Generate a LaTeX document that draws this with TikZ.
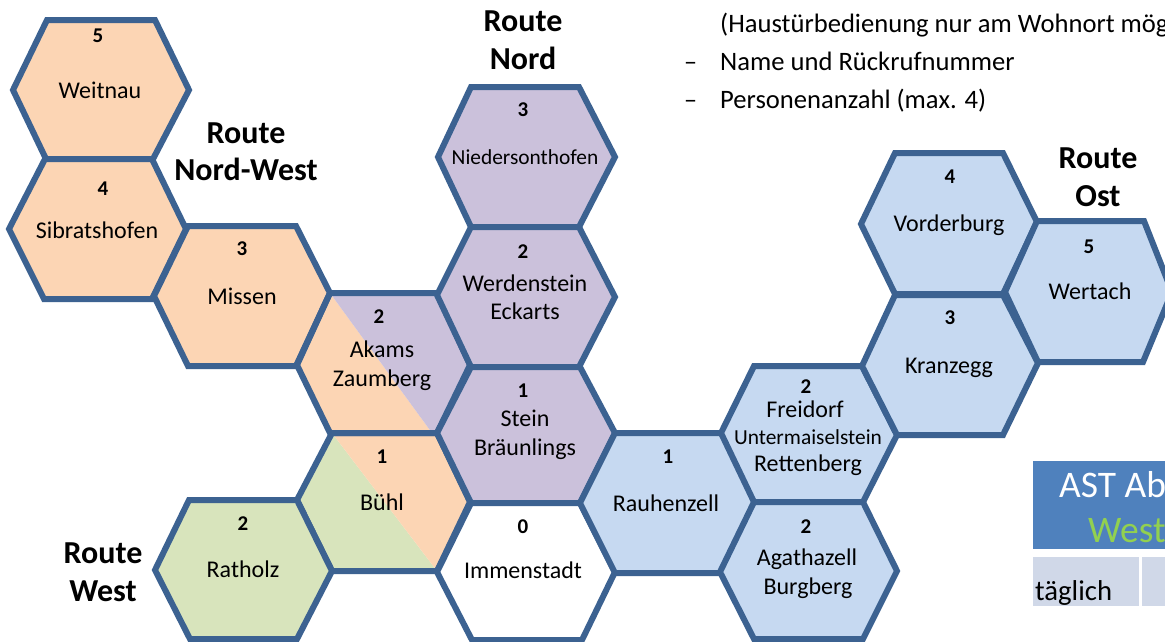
\documentclass[tikz,border=0pt]{standalone}
\usepackage{fontspec}
\setmainfont{Carlito}
\definecolor{hexline}{HTML}{3C6291}
\definecolor{hexorange}{HTML}{FCD5B4}
\definecolor{hexpurple}{HTML}{CBC1DB}
\definecolor{hexgreen}{HTML}{D8E4BC}
\definecolor{hexblue}{HTML}{C6D9F1}
\definecolor{headblue}{HTML}{4F81BD}
\definecolor{cellblue}{HTML}{D0D8E8}
\definecolor{westgreen}{HTML}{92D050}
\tikzset{
  hexa/.style={draw=hexline,line width=6pt,line join=miter},
  lab/.style={anchor=base,inner sep=0pt,font=\fontsize{24}{28}\selectfont},
  smalllab/.style={anchor=base,inner sep=0pt,font=\fontsize{21.4}{24}\selectfont},
  num/.style={anchor=base,inner sep=0pt,font=\fontsize{21}{22}\selectfont\bfseries},
  routelab/.style={anchor=base,inner sep=0pt,font=\fontsize{32}{36}\selectfont\bfseries},
  bodylab/.style={anchor=base west,inner sep=0pt,font=\fontsize{26.6}{30}\selectfont},
}
\begin{document}
\begin{tikzpicture}[x=1pt,y=-1pt]
\clip (0,0) rectangle (1165,641);
\fill[white] (0,0) rectangle (1165,641);
% table
\fill[headblue] (1033,461) rectangle (1165,549);
\fill[cellblue] (1033,557) rectangle (1139,606);
\fill[cellblue] (1142,557) rectangle (1165,606);
% two-colour fills
\fill[hexorange] (330,293) -- (297,365) -- (330,433) -- (432,433) -- cycle;
\fill[hexpurple] (330,293) -- (437,293) -- (470,365) -- (437,433) -- (432,433) -- cycle;
\fill[hexgreen] (332,433) -- (297,500) -- (332,571) -- (437,571) -- cycle;
\fill[hexorange] (332,433) -- (437,433) -- (470,502) -- (437,571) -- cycle;
% hexagons
\draw[hexa,fill=hexorange] (47,20) -- (155,20) -- (189,90) -- (153,159) -- (46,159) -- (13,90) -- cycle;
\draw[hexa,fill=hexorange] (45,159) -- (152,159) -- (186,229) -- (152,299) -- (44,299) -- (9,229) -- cycle;
\draw[hexa,fill=hexorange] (188,226) -- (296,226) -- (330,293) -- (296,366) -- (188,366) -- (154,296) -- cycle;
\draw[hexa] (330,293) -- (437,293) -- (470,365) -- (437,433) -- (330,433) -- (297,365) -- cycle;
\draw[hexa] (332,433) -- (437,433) -- (470,502) -- (437,571) -- (332,571) -- (297,500) -- cycle;
\draw[hexa,fill=hexgreen] (189,500) -- (297,500) -- (332,571) -- (297,639) -- (190,639) -- (155,570) -- cycle;
\draw[hexa,fill=hexpurple] (471,87) -- (579,87) -- (615,157) -- (579,227) -- (471,227) -- (438,157) -- cycle;
\draw[hexa,fill=hexpurple] (471,227) -- (579,227) -- (615,297) -- (579,367) -- (471,367) -- (437,295) -- cycle;
\draw[hexa,fill=hexpurple] (471,367) -- (580,367) -- (615,433) -- (580,503) -- (471,503) -- (437,433) -- cycle;
\draw[hexa,fill=white] (471,503) -- (580,503) -- (615,572) -- (582,640) -- (472,640) -- (437,572) -- cycle;
\draw[hexa,fill=hexblue] (615,433) -- (722,433) -- (757,503) -- (722,573) -- (615,573) -- (580,503) -- cycle;
\draw[hexa,fill=hexblue] (754,366) -- (862,366) -- (897,435) -- (863,502) -- (754,502) -- (721,433) -- cycle;
\draw[hexa,fill=hexblue] (754,502) -- (863,502) -- (897,571) -- (863,639) -- (754,639) -- (720,572) -- cycle;
\draw[hexa,fill=hexblue] (895,295) -- (1003,295) -- (1038,363) -- (1003,435) -- (897,435) -- (862,366) -- cycle;
\draw[hexa,fill=hexblue] (895,153) -- (1003,153) -- (1037,222) -- (1003,294) -- (895,294) -- (861,224) -- cycle;
\draw[hexa,fill=hexblue] (1037,221) -- (1144,221) -- (1172,292) -- (1143,362) -- (1038,362) -- (1005,292) -- cycle;
% hexagon labels
\node[num] (n5) at (98,42) {5};
\node[lab] (weitnau) at (100,98) {Weitnau};
\node[num] (n4) at (103,195) {4};
\node[lab] (sibrats) at (97,238) {Sibratshofen};
\node[num] (n3) at (242,255) {3};
\node[lab] (missen) at (242,304) {Missen};
\node[num] (n2a) at (379,323) {2};
\node[lab] (akams) at (382,357) {Akams};
\node[lab] (zaumberg) at (382,386) {Zaumberg};
\node[num] (n1b) at (382,463) {1};
\node[lab] (buehl) at (382,510) {Bühl};
\node[num] (n2r) at (243,530) {2};
\node[lab] (ratholz) at (243,577) {Ratholz};
\node[num] (n3n) at (523,116) {3};
\node[smalllab] (nieder) at (525,164) {Niedersonthofen};
\node[num] (n2w) at (523,258) {2};
\node[lab] (werden) at (525,291) {Werdenstein};
\node[lab] (eckarts) at (525,319) {Eckarts};
\node[num] (n1s) at (523,397) {1};
\node[lab] (stein) at (525,426) {Stein};
\node[lab] (braeun) at (525,455) {Bräunlings};
\node[num] (n0) at (523,533) {0};
\node[lab] (immen) at (523,578) {Immenstadt};
\node[num] (n1r) at (668,463) {1};
\node[lab] (rauhen) at (666,511) {Rauhenzell};
\node[num] (n2f) at (806,393) {2};
\node[lab] (freidorf) at (805,417) {Freidorf};
\node[smalllab] (unterm) at (808,444) {Untermaiselstein};
\node[lab] (retten) at (808,471) {Rettenberg};
\node[num] (n2g) at (806,533) {2};
\node[lab] (agatha) at (807,565) {Agathazell};
\node[lab] (burgberg) at (808,594) {Burgberg};
\node[num] (n3k) at (950,324) {3};
\node[lab] (kranz) at (949,373) {Kranzegg};
\node[num] (n4v) at (950,183) {4};
\node[lab] (vorder) at (949,231) {Vorderburg};
\node[num] (n5w) at (1089,253) {5};
\node[lab] (wertach) at (1090,299) {Wertach};
% route titles
\node[routelab] (rnw1) at (246,143) {Route};
\node[routelab] (rnw2) at (246,180) {Nord-West};
\node[routelab] (rw1) at (103,563) {Route};
\node[routelab] (rw2) at (103,601) {West};
\node[routelab] (rn1) at (523,31) {Route};
\node[routelab] (rn2) at (523,69) {Nord};
\node[routelab] (ro1) at (1098,168) {Route};
\node[routelab] (ro2) at (1098,206) {Ost};
% body text
\node[bodylab] (t1) at (720,32) {(Haustürbedienung nur am Wohnort möglich)};
\node[bodylab] (d2) at (684,70) {\resizebox{13pt}{!}{–}};
\node[bodylab] (t2) at (720,70) {Name und Rückrufnummer};
\node[bodylab] (d3) at (684,108) {\resizebox{13pt}{!}{–}};
\node[bodylab] (t3) at (720,108) {Personenanzahl (max. 4)};
% table text
\node[anchor=base west,inner sep=0pt,font=\fontsize{37.5}{42}\selectfont,text=white] (h1) at (1059,497) {AST Ab};
\node[anchor=base west,inner sep=0pt,font=\fontsize{37.5}{42}\selectfont,text=westgreen] (h2) at (1088,542) {West};
\node[anchor=base west,inner sep=0pt,font=\fontsize{28.7}{32}\selectfont] (c1) at (1035,600) {täglich};
\end{tikzpicture}
\end{document}
